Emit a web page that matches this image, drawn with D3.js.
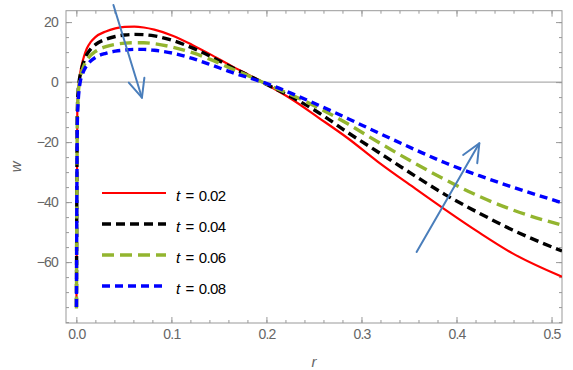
<!DOCTYPE html>
<html>
<head>
<meta charset="utf-8">
<script src="https://cdn.jsdelivr.net/npm/d3@7"></script>
<style>
  html, body { margin: 0; padding: 0; background: #fff; }
  svg { display: block; font-family: "Liberation Sans", Arial, sans-serif; }
</style>
</head>
<body>
<svg id="chart" width="573" height="370"></svg>
<script>
// ---- data ----
const rValues = [0.0001, 0.001, 0.002, 0.003, 0.004, 0.006, 0.008, 0.011, 0.015, 0.02, 0.031, 0.041, 0.051, 0.061, 0.071, 0.082,
                 0.102, 0.122, 0.143, 0.163, 0.184, 0.204, 0.225, 0.255, 0.286, 0.317, 0.357, 0.388, 0.424, 0.459, 0.511];
const wT002 = [-75, -9, -3, 0.5, 2.9, 6.2, 8.5, 11.2, 13.3, 15.0, 16.9, 17.9, 18.4, 18.5, 18.2, 17.5,
               15.4, 12.4, 8.9, 5.4, 2.0, -1.5, -5.4, -11.9, -18.8, -26.5, -35.6, -42.5, -50.2, -57.1, -64.9];
const wT004 = [-75, -10, -2.5, 0.5, 2.3, 5.0, 7.0, 9.2, 11.0, 12.5, 14.3, 15.2, 15.7, 15.9, 15.8, 15.4,
               13.8, 11.4, 8.3, 5.0, 1.8, -1.4, -4.7, -10.2, -16.9, -23.2, -31.4, -37.5, -43.7, -49.3, -56.3];
const wT006 = [-75.5, -12, -4, -0.5, 1.5, 3.8, 5.5, 7.3, 8.9, 10.2, 11.8, 12.6, 13.0, 13.1, 13.1, 12.8,
               11.6, 9.8, 7.3, 4.5, 1.7, -1.2, -4.1, -8.6, -14.0, -19.9, -27.2, -32.5, -38.1, -42.6, -47.7];
const wT008 = [-75, -14, -6, -2.3, 0, 2.3, 3.9, 5.6, 7.0, 8.2, 9.6, 10.3, 10.7, 10.9, 10.9, 10.6,
               9.6, 7.9, 5.6, 3.3, 1.2, -0.9, -3.6, -7.7, -12.2, -16.8, -22.6, -26.9, -31.2, -35.0, -40.2];
const seriesLabels = ["0.02", "0.04", "0.06", "0.08"];
const seriesValues = [wT002, wT004, wT006, wT008];
const xTicks = [0, 0.1, 0.2, 0.3, 0.4, 0.5];
const yTicks = [-60, -40, -20, 0, 20];
// arrows: [r0, w0, r1, w1] in data units (start -> tip)
const arrowDown = [0.039, 25.7, 0.069, -5.2];
const arrowUp = [0.358, -56.6, 0.424, -20.4];

// ---- styles ----
const colors = ["#ff0000", "#000000", "#93b52f", "#0000ff"];
const dashes = [null, "9,5", "12,6", "8,5"];
const widths = [2.2, 3.4, 3.4, 3.4];

const svg = d3.select("#chart");
const L = 66, R = 562, T = 10.7, B = 323;
const x = d3.scaleLinear().domain([-0.0109, 0.5110]).range([L, R]);
const y = d3.scaleLinear().domain([-80.3, 23.8]).range([B, T]);

const frameColor = "#999";
const labelColor = "#666";

// zero line
svg.append("line")
  .attr("x1", L).attr("x2", R).attr("y1", y(0)).attr("y2", y(0))
  .attr("stroke", "#999").attr("stroke-width", 1);

// frame
svg.append("rect").attr("x", L).attr("y", T).attr("width", R - L).attr("height", B - T)
  .attr("fill", "none").attr("stroke", frameColor).attr("stroke-width", 1);

const xMinor = d3.range(0, 0.5001, 0.02);
const yMinor = d3.range(-80, 21, 5);

function styleAxis(g) {
  g.select(".domain").remove();
  g.selectAll("line").attr("stroke", frameColor);
  g.selectAll("text").attr("fill", labelColor).style("font-size", "14px").style("letter-spacing", "-0.8px");
}

// bottom
svg.append("g").attr("transform", `translate(0,${B})`)
  .call(d3.axisBottom(x).tickValues(xTicks).tickFormat(d3.format(".1f")).tickSizeInner(-6).tickSizeOuter(0).tickPadding(6))
  .call(styleAxis);
svg.append("g").attr("transform", `translate(0,${B})`)
  .call(d3.axisBottom(x).tickValues(xMinor).tickFormat("").tickSizeInner(-3).tickSizeOuter(0))
  .call(styleAxis);
// top
svg.append("g").attr("transform", `translate(0,${T})`)
  .call(d3.axisTop(x).tickValues(xTicks).tickFormat("").tickSizeInner(-6).tickSizeOuter(0))
  .call(styleAxis);
svg.append("g").attr("transform", `translate(0,${T})`)
  .call(d3.axisTop(x).tickValues(xMinor).tickFormat("").tickSizeInner(-3).tickSizeOuter(0))
  .call(styleAxis);
// left
svg.append("g").attr("transform", `translate(${L},0)`)
  .call(d3.axisLeft(y).tickValues(yTicks).tickSizeInner(-6).tickSizeOuter(0).tickPadding(8))
  .call(styleAxis);
svg.append("g").attr("transform", `translate(${L},0)`)
  .call(d3.axisLeft(y).tickValues(yMinor).tickFormat("").tickSizeInner(-3).tickSizeOuter(0))
  .call(styleAxis);
// right
svg.append("g").attr("transform", `translate(${R},0)`)
  .call(d3.axisRight(y).tickValues(yTicks).tickFormat("").tickSizeInner(-6).tickSizeOuter(0))
  .call(styleAxis);
svg.append("g").attr("transform", `translate(${R},0)`)
  .call(d3.axisRight(y).tickValues(yMinor).tickFormat("").tickSizeInner(-3).tickSizeOuter(0))
  .call(styleAxis);

// axis labels
svg.append("text").attr("x", (L + R) / 2).attr("y", 367).attr("text-anchor", "middle")
  .attr("fill", labelColor).style("font-size", "15px").style("font-style", "italic").text("r");
svg.append("text").attr("transform", `translate(21,${(T + B) / 2}) rotate(-90)`).attr("text-anchor", "middle")
  .attr("fill", labelColor).style("font-size", "15px").style("font-style", "italic").text("w");

// clip
svg.append("clipPath").attr("id", "clip").append("rect")
  .attr("x", L).attr("y", T).attr("width", R - L).attr("height", B - T);

const line = d3.line().x(d => x(d[0])).y(d => y(d[1])).curve(d3.curveMonotoneX);
const plot = svg.append("g").attr("clip-path", "url(#clip)");
seriesValues.forEach((vals, i) => {
  const pts = rValues.map((r, j) => [r, vals[j]]);
  plot.append("path").datum(pts)
    .attr("d", line)
    .attr("fill", "none")
    .attr("stroke", colors[i])
    .attr("stroke-width", widths[i])
    .attr("stroke-dasharray", dashes[i]);
});

// arrows
const arrowColor = "#4a7ebb";
function drawArrow(a) {
  const x0 = x(a[0]), y0 = y(a[1]), x1 = x(a[2]), y1 = y(a[3]);
  const ang = Math.atan2(y1 - y0, x1 - x0);
  const len = 20, spread = 0.42;
  const g = svg.append("g").attr("stroke", arrowColor).attr("stroke-width", 2).attr("fill", "none")
    .attr("stroke-linecap", "round").attr("stroke-linejoin", "round");
  g.append("line").attr("x1", x0).attr("y1", y0).attr("x2", x1).attr("y2", y1);
  g.append("path").attr("d",
    `M${x1 - len * Math.cos(ang - spread)},${y1 - len * Math.sin(ang - spread)}L${x1},${y1}L${x1 - len * Math.cos(ang + spread)},${y1 - len * Math.sin(ang + spread)}`);
}
drawArrow(arrowDown);
drawArrow(arrowUp);

// legend
const legY = [193, 224, 255, 286];
seriesLabels.forEach((lab, i) => {
  svg.append("line").attr("x1", 102).attr("x2", 166).attr("y1", legY[i]).attr("y2", legY[i])
    .attr("stroke", colors[i]).attr("stroke-width", widths[i]).attr("stroke-dasharray", dashes[i]);
  const t = svg.append("text").attr("x", 176).attr("y", legY[i] + 8)
    .attr("fill", "#000").style("font-size", "15px").style("letter-spacing", "-0.6px");
  t.append("tspan").style("font-style", "italic").text("t");
  t.append("tspan").attr("dx", 6).text("=");
  t.append("tspan").attr("dx", 5).text(lab);
});
</script>
</body>
</html>
